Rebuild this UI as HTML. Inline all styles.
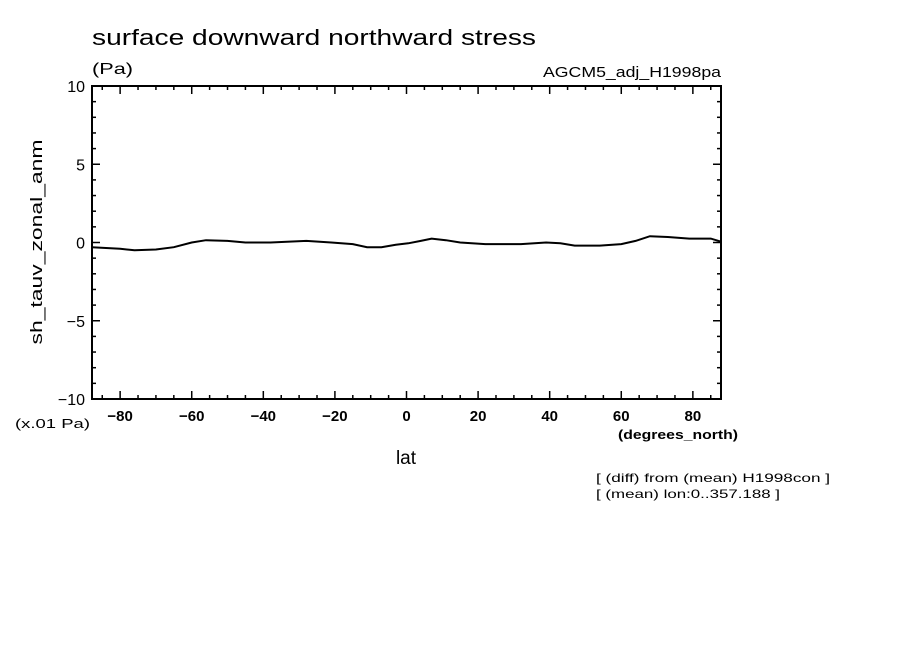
<!DOCTYPE html>
<html><head><meta charset="utf-8"><style>
body{margin:0;background:#fff}
svg{display:block;font-family:"Liberation Sans",sans-serif}
</style></head><body>
<svg id="c" width="904" height="654" viewBox="0 0 904 654">
<text x="92" y="45" font-size="22" textLength="444" lengthAdjust="spacingAndGlyphs">surface downward northward stress</text>
<text x="92" y="74" font-size="16" textLength="41" lengthAdjust="spacingAndGlyphs">(Pa)</text>
<text x="543" y="77" font-size="15" textLength="178" lengthAdjust="spacingAndGlyphs">AGCM5_adj_H1998pa</text>
<text x="42" y="242" font-size="17" text-anchor="middle" textLength="205" lengthAdjust="spacingAndGlyphs" transform="rotate(-90 42 242)">sh_tauv_zonal_anm</text>
<text x="15" y="428" font-size="13" textLength="75" lengthAdjust="spacingAndGlyphs">(x.01 Pa)</text>
<text x="406" y="464" font-size="19" text-anchor="middle">lat</text>
<text x="618" y="439" font-size="13" textLength="120" lengthAdjust="spacingAndGlyphs" font-weight="bold">(degrees_north)</text>
<text x="596" y="482" font-size="12" textLength="234" lengthAdjust="spacingAndGlyphs">[ (diff) from (mean) H1998con ]</text>
<text x="596" y="498" font-size="12" textLength="184" lengthAdjust="spacingAndGlyphs">[ (mean) lon:0..357.188 ]</text>
<g id="axes"></g>
<path id="line" fill="none" stroke="#000" stroke-width="2"></path>
</svg>
<script>
const lats=[-87.9,-80,-76,-70,-65,-60,-56,-50,-45,-38,-28,-21,-15,-11,-7,-3,0.5,4,7,11,15,22,32,39,43,47,54,60,64,68,73,79,85,87.9];
const vals=[-0.3,-0.4,-0.5,-0.45,-0.3,0,0.15,0.1,0.0,0.0,0.1,0.0,-0.1,-0.3,-0.3,-0.15,-0.05,0.1,0.25,0.15,0.0,-0.1,-0.1,0.0,-0.05,-0.2,-0.2,-0.1,0.1,0.4,0.35,0.25,0.25,0.05];
const xTicks=[-80,-60,-40,-20,0,20,40,60,80];
const yTicks=[-10,-5,0,5,10];
const X0=92,X1=721,Y0=86,Y1=399,LMIN=-87.86,LMAX=87.86;
const xs=v=>X0+(v-LMIN)/(LMAX-LMIN)*(X1-X0);
const ys=v=>Y1-(v+10)/20*(Y1-Y0);
const g=document.getElementById('axes');
const NS='http://www.w3.org/2000/svg';
function ln(x1,y1,x2,y2,w){const l=document.createElementNS(NS,'line');l.setAttribute('x1',x1);l.setAttribute('y1',y1);l.setAttribute('x2',x2);l.setAttribute('y2',y2);l.setAttribute('stroke','#000');l.setAttribute('stroke-width',w||1.5);


g.appendChild(l);}
const r=document.createElementNS(NS,'rect');r.setAttribute('x',X0);r.setAttribute('y',Y0);r.setAttribute('width',X1-X0);r.setAttribute('height',Y1-Y0);r.setAttribute('fill','none');r.setAttribute('stroke','#000');r.setAttribute('stroke-width',2);


g.appendChild(r);
for(let v=-85;v<=85;v+=5){const x=xs(v);const m=v%20===0;const L=m?8:4;ln(x,Y1,x,Y1-L);ln(x,Y0,x,Y0+L);}
for(let v=-10;v<=10;v++){const y=ys(v);const m=v%5===0;const L=m?8:4;ln(X0,y,X0+L,y);ln(X1,y,X1-L,y);}
xTicks.forEach(v=>{const t=document.createElementNS(NS,'text');t.setAttribute('x',xs(v));t.setAttribute('y',421);t.setAttribute('font-size',15);t.setAttribute('font-weight','bold');t.setAttribute('text-anchor','middle');t.textContent=v===0?'0':(v<0?'\u2212'+(-v):v);


g.appendChild(t);});
yTicks.forEach(v=>{const t=document.createElementNS(NS,'text');t.setAttribute('x',85);t.setAttribute('y',ys(v)+6);t.setAttribute('font-size',16);t.setAttribute('text-anchor','end');t.textContent=v<0?'\u2212'+(-v):v;


g.appendChild(t);});
document.getElementById('line').setAttribute('d',lats.map((l,i)=>(i?'L':'M')+xs(l).toFixed(1)+','+ys(vals[i]).toFixed(1)).join(''));
</script>
</body></html>
